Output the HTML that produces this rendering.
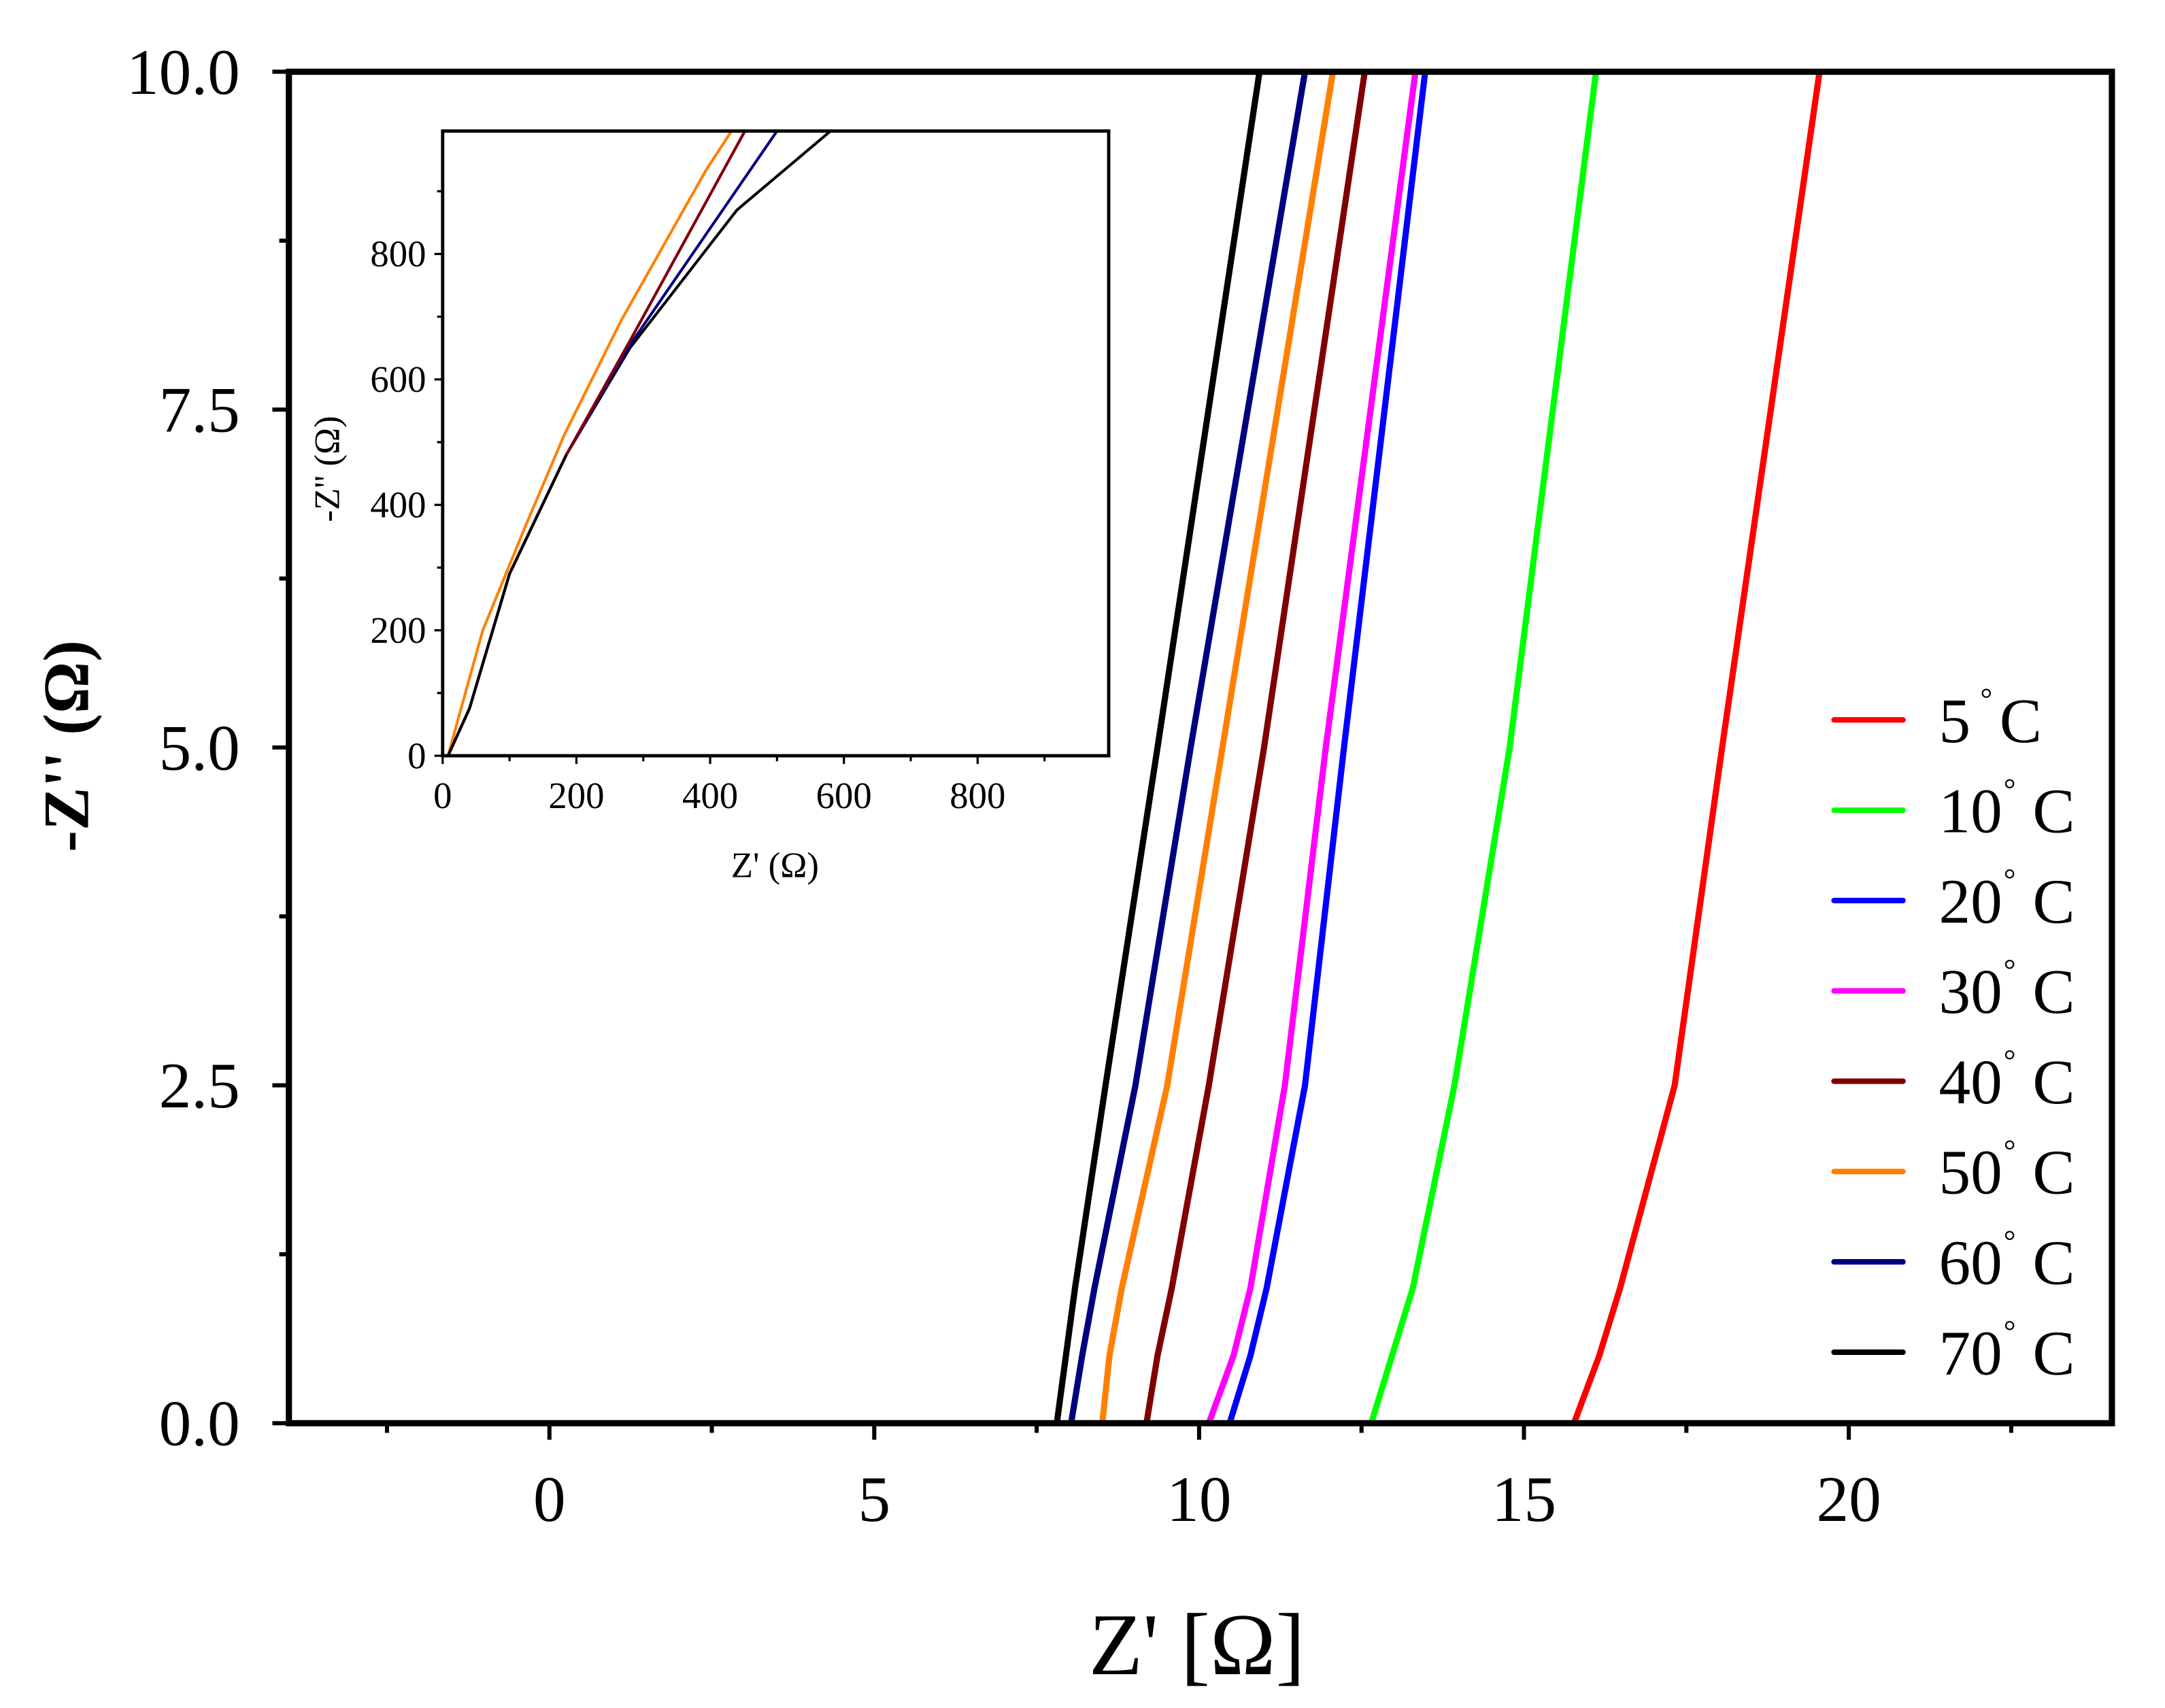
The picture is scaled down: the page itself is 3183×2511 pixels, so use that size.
<!DOCTYPE html>
<html><head><meta charset="utf-8"><style>html,body{margin:0;padding:0;background:#fff}svg{display:block}text{font-family:"Liberation Serif",serif;fill:#000}</style></head>
<body>
<svg id="chart" width="3183" height="2511" viewBox="0 0 1570 1238.5" xmlns="http://www.w3.org/2000/svg">
<g id="main"></g>
<g id="inset"></g>
<g id="legend"></g>
</svg>
<script>
const seriesNames = ["5 °C","10 °C","20 °C","30 °C","40 °C","50 °C","60 °C","70 °C"];
const seriesColors = ["#ff0000","#00ff00","#0000ff","#ff00ff","#800000","#ff8000","#000080","#000000"];
const yLevels = [0, 0.5, 1, 2.5, 5, 10];
const xS5  = [15.77,16.16,16.48,17.32,18.05,19.55];
const xS10 = [12.65,12.97,13.29,13.93,14.78,16.11];
const xS20 = [10.47,10.79,11.04,11.63,12.23,13.48];
const xS30 = [10.15,10.53,10.79,11.32,11.95,13.33];
const xS40 = [9.19,9.36,9.58,10.15,11.0,12.55];
const xS50 = [8.51,8.62,8.81,9.51,10.36,12.06];
const xS60 = [8.03,8.2,8.39,9.02,9.87,11.63];
const xS70 = [7.81,7.95,8.09,8.56,9.36,10.93];
const mainSeries = [xS5,xS10,xS20,xS30,xS40,xS50,xS60,xS70];
const xTicks = [0,5,10,15,20];
const yTicks = [0,2.5,5,7.5,10];
const yTickLabels = ["0.0","2.5","5.0","7.5","10.0"];
// inset
const insetBaseX = [8,40,100,185];
const insetBaseY = [0,75,290,480];
const insetBlackX = [280,440,580];  const insetBlackY = [650,870,996];
const insetNavyX = [284,500];       const insetNavyY = [661,996];
const insetPinkX = [284,452];       const insetPinkY = [669,996];
const insetOrangeX = [123,182,267,394,432]; const insetOrangeY = [364,512,694,934,996];
const insetTicks = [0,200,400,600,800];

const NS="http://www.w3.org/2000/svg";
function mk(tag,attrs,parent){const e=document.createElementNS(NS,tag);for(const k in attrs)e.setAttribute(k,attrs[k]);parent.appendChild(e);return e;}
const main=document.getElementById('main'), inset=document.getElementById('inset'), legend=document.getElementById('legend');
const L=209.5,R=1531.5,T=52,B=1032, xmin=-4.01, xmax=24.05;
const sx=v=>L+(v-xmin)/(xmax-xmin)*(R-L);
const sy=v=>B-v/10*(B-T);
const cp=mk('clipPath',{id:'mclip'},main);
mk('rect',{x:L,y:T,width:R-L,height:B-T},cp);
mainSeries.forEach((xs,i)=>{
  const p=mk('polyline',{points:xs.map((x,j)=>sx(x)+','+sy(yLevels[j])).join(' '),fill:'none',stroke:seriesColors[i],'stroke-width':4.5,'stroke-linejoin':'round','clip-path':'url(#mclip)'},main);
  
  
});
const frame=mk('rect',{x:L,y:T,width:R-L,height:B-T,fill:'none',stroke:'#000','stroke-width':4.5},main);

for(let v=-2.5;v<=22.5;v+=2.5){const x=sx(v);const maj=Math.abs(v%5)<1e-9;mk('line',{x1:x,x2:x,y1:B,y2:B+(maj?12:7),stroke:'#000','stroke-width':3},main);}
xTicks.forEach(v=>{const t=mk('text',{x:sx(v),y:1103,'font-size':47,'text-anchor':'middle'},main);t.textContent=v;});
for(let v=0;v<=10;v+=1.25){const y=sy(v);const maj=Math.abs((v/2.5)%1)<1e-9;mk('line',{x1:L,x2:L-(maj?12:7),y1:y,y2:y,stroke:'#000','stroke-width':3},main);}
yTicks.forEach((v,i)=>{const t=mk('text',{x:174,y:sy(v)+16,'font-size':47,'text-anchor':'end'},main);t.textContent=yTickLabels[i];});
let xt=mk('text',{x:868,y:1214,'font-size':64,'text-anchor':'middle'},main);xt.textContent="Z' [Ω]";

let yt=mk('text',{x:64,y:541,'font-size':47,'text-anchor':'middle','font-weight':'bold',transform:'rotate(-90 64 541)'},main);yt.textContent="-Z'' (Ω)";

// inset
const iL=321,iR=804,iT=95,iB=548,imax=996;
const ix=v=>iL+v/imax*(iR-iL), iy=v=>iB-v/imax*(iB-iT);
mk('rect',{x:iL,y:iT,width:iR-iL,height:iB-iT,fill:'#fff'},inset);
function ipoly(xs,ys,col,name){const p=mk('polyline',{points:xs.map((x,j)=>ix(x)+','+iy(ys[j])).join(' '),fill:'none',stroke:col,'stroke-width':2},inset);
}
ipoly(insetBaseX.concat(insetBlackX),insetBaseY.concat(insetBlackY),'#000000','inset-curve-70c');
ipoly(insetBaseX.concat(insetNavyX),insetBaseY.concat(insetNavyY),'#000080','inset-curve-60c');
ipoly(insetBaseX.concat(insetPinkX),insetBaseY.concat(insetPinkY),'#ff00ff','inset-curve-30c');
ipoly(insetBaseX.concat(insetPinkX),insetBaseY.concat(insetPinkY),'#800000','inset-curve-40c');
ipoly([8,60].concat(insetOrangeX),[0,200].concat(insetOrangeY),'#ff8000','inset-curve-50c');
ipoly(insetBaseX,insetBaseY,'#000000','inset-curve-base');
const iframe=mk('rect',{x:iL,y:iT,width:iR-iL,height:iB-iT,fill:'none',stroke:'#000','stroke-width':2.4},inset);

for(let v=0;v<=900;v+=100){const maj=v%200===0;mk('line',{x1:ix(v),x2:ix(v),y1:iB,y2:iB+(maj?6:4),stroke:'#000','stroke-width':1.6},inset);mk('line',{x1:iL,x2:iL-(maj?6:4),y1:iy(v),y2:iy(v),stroke:'#000','stroke-width':1.6},inset);}
insetTicks.forEach(v=>{let t=mk('text',{x:ix(v),y:586,'font-size':27,'text-anchor':'middle'},inset);t.textContent=v;
t=mk('text',{x:309,y:iy(v)+9,'font-size':27,'text-anchor':'end'},inset);t.textContent=v;});
let ixt=mk('text',{x:562,y:636,'font-size':26,'text-anchor':'middle'},inset);ixt.textContent="Z' (Ω)";

let iyt=mk('text',{x:246,y:340,'font-size':26,'text-anchor':'middle',transform:'rotate(-90 246 340)'},inset);iyt.textContent="-Z'' (Ω)";

// legend
seriesNames.forEach((n,i)=>{const y=522+i*65.5;
const l=mk('line',{x1:1330,x2:1380,y1:y,y2:y,stroke:seriesColors[i],'stroke-width':4,'stroke-linecap':'round'},legend);

const num=n.split(' ')[0];
const t=mk('text',{x:1406,y:y+16,'font-size':46},legend);t.textContent=num;

const two=num.length>1;
const d=mk('text',{x:two?1453:1436,y:y-8,'font-size':22},legend);d.textContent='°';
const c=mk('text',{x:two?1474:1450,y:y+16,'font-size':46},legend);c.textContent='C';});
</script>
</body></html>
